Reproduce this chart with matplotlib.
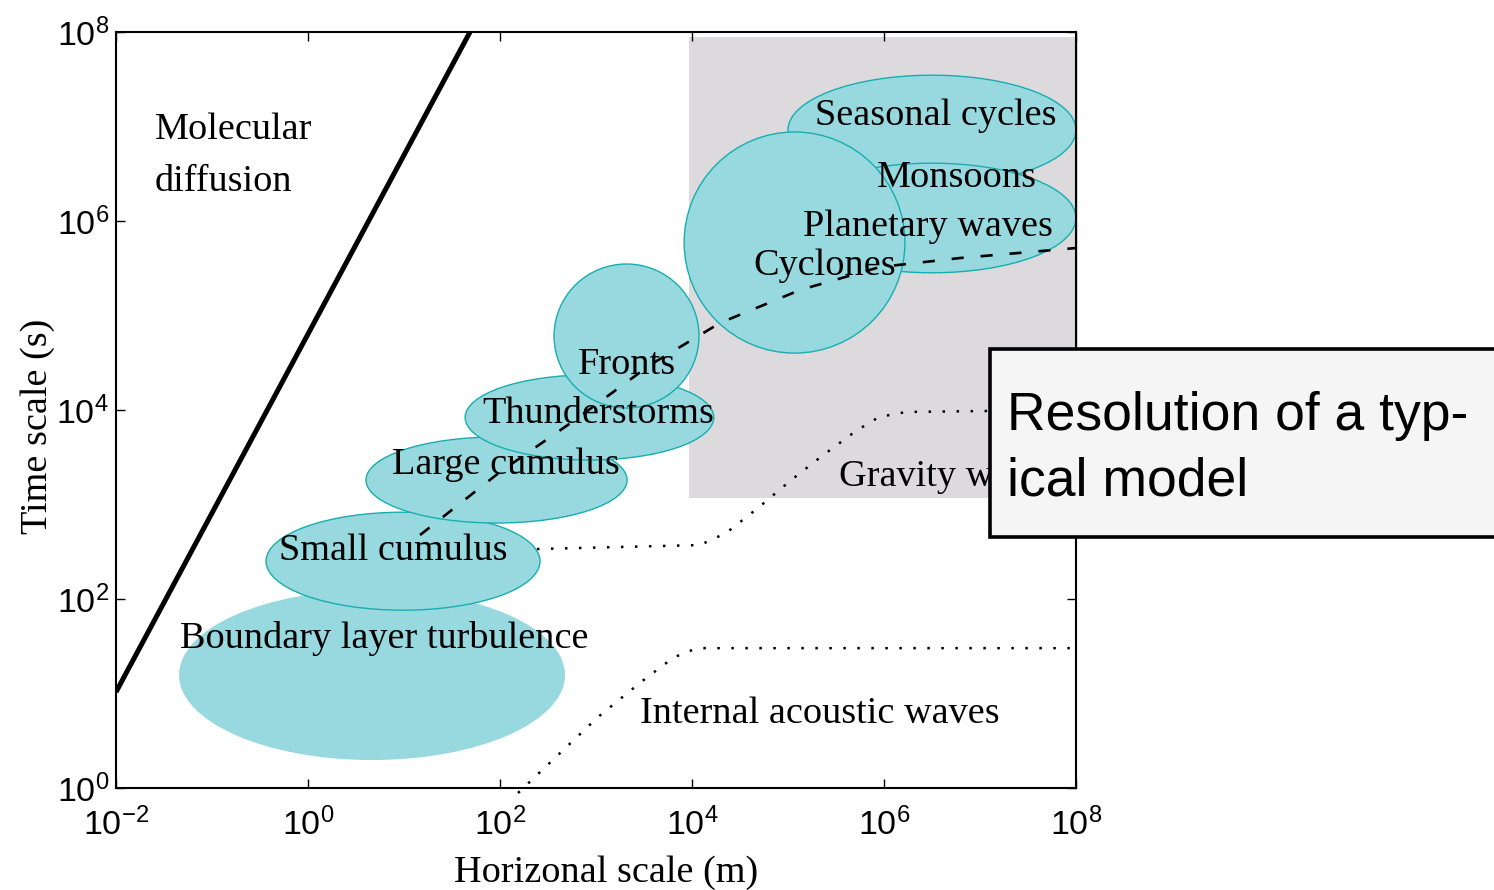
import numpy as np
import matplotlib
matplotlib.use('Agg')
import matplotlib.pyplot as plt
from matplotlib.patches import Ellipse, Rectangle
from matplotlib.transforms import Affine2D
from matplotlib.ticker import FixedLocator, NullLocator, FuncFormatter

plt.rcParams['mathtext.fontset'] = 'custom'
plt.rcParams['mathtext.rm'] = 'Liberation Sans'
plt.rcParams['mathtext.it'] = 'Liberation Sans'
plt.rcParams['mathtext.bf'] = 'Liberation Sans'
plt.rcParams['mathtext.sf'] = 'Liberation Sans'

# ---------------- data (log10 units) ----------------
x_tick_exp = [-2, 0, 2, 4, 6, 8]
y_tick_exp = [0, 2, 4, 6, 8]

# phenomena ellipses: centre (log10 m, log10 s), width/height in decades
ell_names = ['Boundary layer turbulence', 'Small cumulus', 'Large cumulus',
             'Thunderstorms', 'Fronts', 'Seasonal cycles', 'Monsoons',
             'Cyclones']
ell_cx = [0.667, 0.99, 1.964, 2.932, 3.318, 6.50, 6.50, 5.068]
ell_cy = [1.196, 2.40, 3.259, 3.921, 4.783, 6.963, 6.032, 5.772]
ell_w = [4.02, 2.854, 2.72, 2.59, 1.51, 3.0, 3.0, 2.30]
ell_h = [1.80, 1.037, 0.91, 0.90, 1.524, 1.16, 1.16, 2.34]
ell_outline = [False, True, True, True, True, True, True, True]

# planetary waves (mostly outside the plotted range)
planet_cx, planet_cy, planet_w, planet_h = 8.80, 6.085, 1.56, 1.20

# region labels
label_names = ['Molecular', 'diffusion', 'Seasonal cycles', 'Monsoons',
               'Planetary waves', 'Cyclones', 'Fronts', 'Thunderstorms',
               'Large cumulus', 'Small cumulus', 'Boundary layer turbulence',
               'Gravity waves', 'Internal acoustic waves']
label_lx = [-1.594, -1.594, 5.281, 5.927, 5.156, 4.635, 2.8125, 1.8125,
            0.875, -0.302, -1.333, 5.531, 3.458]
label_ly = [6.868, 6.317, 7.016, 6.360, 5.841, 5.429, 4.381, 3.862,
            3.323, 2.413, 1.481, 3.196, 0.688]

# molecular diffusion limit (thick line)
diff_lx = [-2.0, 1.6875]
diff_ly = [1.016, 8.0]

# typical time scale of resolved phenomena (dashed)
dash_lx = [1.167, 2.0, 2.781, 3.5625, 4.292, 5.125, 5.958, 6.79, 8.0]
dash_ly = [2.677, 3.344, 3.894, 4.476, 4.921, 5.27, 5.513, 5.608, 5.714]

# gravity waves (dotted)
grav_lx = [2.385, 4.083, 4.354, 4.6875, 5.021, 5.354, 5.708, 5.948, 6.229, 7.104, 8.0]
grav_ly = [2.529, 2.571, 2.698, 2.963, 3.249, 3.513, 3.778, 3.926, 3.979, 3.99, 3.99]

# internal acoustic waves (dotted)
acou_lx = [2.1875, 2.604, 3.021, 3.469, 3.802, 3.9375, 4.073, 4.219, 8.0]
acou_ly = [-0.053, 0.349, 0.751, 1.122, 1.376, 1.439, 1.48, 1.48, 1.48]

# model-resolution box (log10 m, log10 s)
box_lx = [3.97, 8.02]
box_ly = [3.069, 7.947]

# ---------------- styling ----------------
FILL = '#97d9de'
EDGE = '#17aeb0'
GRAY = '#dcdadd'
SERIF = 'Liberation Serif'
SANS = 'Liberation Sans'
FS = 27.5

W, H = 1494, 890
fig = plt.figure(figsize=(W / 100, H / 100), dpi=100)
ax = fig.add_axes([116 / W, (H - 788) / H, 960 / W, 756 / H])
ax.set_xscale('log')
ax.set_yscale('log')
ax.set_xlim(10.0 ** x_tick_exp[0], 10.0 ** x_tick_exp[-1])
ax.set_ylim(10.0 ** y_tick_exp[0], 10.0 ** y_tick_exp[-1])

xl = np.log10(ax.get_xlim())
yl = np.log10(ax.get_ylim())
log_to_axes = (Affine2D().translate(-xl[0], -yl[0])
               .scale(1 / (xl[1] - xl[0]), 1 / (yl[1] - yl[0])) + ax.transAxes)

# gray box
ax.add_patch(Rectangle((10 ** box_lx[0], 10 ** box_ly[0]),
                       10 ** box_lx[1] - 10 ** box_lx[0],
                       10 ** box_ly[1] - 10 ** box_ly[0],
                       facecolor=GRAY, edgecolor='none', zorder=1, clip_on=False))

# ellipses
for cx, cy, w, h, outl in zip(ell_cx, ell_cy, ell_w, ell_h, ell_outline):
    e = Ellipse((cx, cy), w, h, transform=log_to_axes, facecolor=FILL,
                edgecolor=EDGE if outl else 'none', linewidth=1.0, zorder=2)
    ax.add_patch(e)

clip_rect = Rectangle((0, 0), 1.0065, 1.0, transform=ax.transAxes)
pe = Ellipse((planet_cx, planet_cy), planet_w, planet_h, transform=log_to_axes,
             facecolor=FILL, edgecolor=EDGE, linewidth=1.0, zorder=2)
pe.set_clip_path(clip_rect)
ax.add_patch(pe)

# lines
ax.plot(10.0 ** np.array(diff_lx), 10.0 ** np.array(diff_ly), color='black',
        lw=3.6, solid_capstyle='butt', zorder=4)
ax.plot(10.0 ** np.array(dash_lx), 10.0 ** np.array(dash_ly), color='black',
        lw=1.9, linestyle=(0, (4.6, 6.4)), zorder=4)
ax.plot(10.0 ** np.array(grav_lx), 10.0 ** np.array(grav_ly), color='black',
        lw=1.8, linestyle=(0, (1, 4.6)), zorder=4)
ax.plot(10.0 ** np.array(acou_lx), 10.0 ** np.array(acou_ly), color='black',
        lw=1.8, linestyle=(0, (1, 4.6)), zorder=4, clip_on=False)

# labels
for name, lx, ly in zip(label_names, label_lx, label_ly):
    ax.text(10 ** lx, 10 ** ly, name, fontsize=FS, family=SERIF,
            ha='left', va='baseline', zorder=3)

# axes styling
ax.xaxis.set_major_locator(FixedLocator(10.0 ** np.array(x_tick_exp)))
ax.yaxis.set_major_locator(FixedLocator(10.0 ** np.array(y_tick_exp)))
ax.xaxis.set_minor_locator(NullLocator())
ax.yaxis.set_minor_locator(NullLocator())
fmt = FuncFormatter(lambda v, p: r'$10^{%d}$' % int(round(np.log10(v))))
ax.xaxis.set_major_formatter(fmt)
ax.yaxis.set_major_formatter(fmt)
ax.tick_params(which='major', direction='in', length=6.5, width=1.0,
               top=True, right=True, labelsize=24.5)
ax.tick_params(axis='x', pad=14)
ax.tick_params(axis='y', pad=5)
for s in ax.spines.values():
    s.set_linewidth(1.5)
    s.set_zorder(5)

ax.set_xlabel('Horizonal scale (m)', fontsize=FS, family=SERIF, va='baseline')
ax.xaxis.set_label_coords(0.511, -(882 - 788) / 756)
ax.set_ylabel('Time scale (s)', fontsize=FS, family=SERIF, va='baseline')
ax.yaxis.set_label_coords((47 - 116) / 960, (788 - 426.5) / 756)

# resolution text box (figure level)
fig.add_artist(Rectangle((990 / W, 1 - 537 / H), (1520 - 990) / W, (537 - 349) / H,
                         transform=fig.transFigure, facecolor='#f5f5f5',
                         edgecolor='black', linewidth=2.6, zorder=10,
                         clip_on=False))
fig.text(1007 / W, 1 - 430 / H, 'Resolution of a typ-', fontsize=38.5,
         family=SANS, va='baseline', ha='left', zorder=11)
fig.text(1007 / W, 1 - 495 / H, 'ical model', fontsize=38.5,
         family=SANS, va='baseline', ha='left', zorder=11)

fig.savefig('out.png', dpi=100)
